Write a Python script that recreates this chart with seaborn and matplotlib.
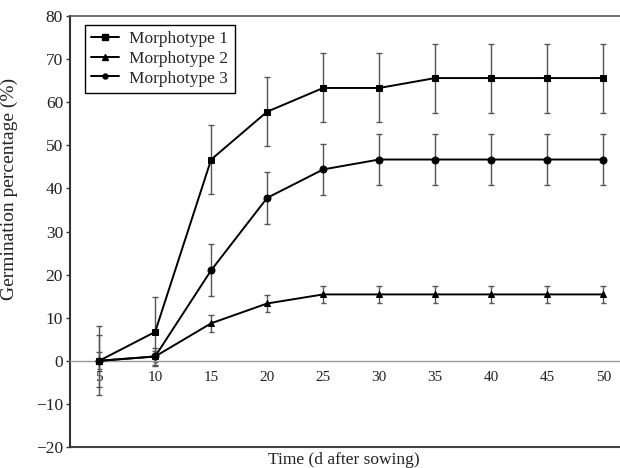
import matplotlib
matplotlib.use("Agg")
import matplotlib.pyplot as plt
import seaborn as sns
import pandas as pd
from matplotlib.lines import Line2D

days = [5, 10, 15, 20, 25, 30, 35, 40, 45, 50]
m1 = [0, 6.7, 46.7, 57.8, 63.3, 63.3, 65.6, 65.6, 65.6, 65.6]
m1_err = [8, 8, 8, 8, 8, 8, 8, 8, 8, 8]
m2 = [0, 1.0, 8.7, 13.3, 15.4, 15.4, 15.4, 15.4, 15.4, 15.4]
m2_err = [2, 1.2, 2, 2, 2, 2, 2, 2, 2, 2]
m3 = [0, 1.0, 21.0, 37.8, 44.4, 46.7, 46.7, 46.7, 46.7, 46.7]
m3_err = [6, 2, 6, 6, 6, 6, 6, 6, 6, 6]
names = ["Morphotype 1", "Morphotype 2", "Morphotype 3"]
yticks = [-20, -10, 0, 10, 20, 30, 40, 50, 60, 70, 80]

sns.set_theme(style="white")
plt.rcParams['font.family'] = ['Liberation Serif', 'DejaVu Serif']

rows = []
for name, vals in zip(names, [m1, m2, m3]):
    for d, v in zip(days, vals):
        rows.append({"day": d, "value": v, "Morphotype": name})
df = pd.DataFrame(rows)

fig = plt.figure(figsize=(6.2, 4.68), dpi=100)
ax = fig.add_axes([70/620, 1-447/468, 1-70/620 + 0.02, (447-16)/468])

for vals, errs in zip([m1, m2, m3], [m1_err, m2_err, m3_err]):
    ax.errorbar(days, vals, yerr=errs, fmt='none', ecolor='#555555',
                elinewidth=1.0, capsize=2.5, capthick=1.0, zorder=2)

markers = {"Morphotype 1": "s", "Morphotype 2": "^", "Morphotype 3": "o"}
sizes = {"Morphotype 1": 5, "Morphotype 2": 4.5, "Morphotype 3": 3.6}
sns.lineplot(data=df, x="day", y="value", hue="Morphotype", style="Morphotype",
             palette=["black"]*3, markers=markers, dashes=False, ax=ax,
             linewidth=1.4, markersize=5, markeredgecolor='black',
             legend=False, zorder=3)
for line, n in zip(ax.get_lines(), names):
    line.set_markersize(sizes[n])

ax.set_xlim(2.4, 51.5 + 0.02*620/11.2)
ax.set_ylim(-20, 80)
ax.set_yticks(yticks)
ax.set_xticks(days)
ax.set_xticklabels([str(d) for d in days], fontsize=12.5)
ax.tick_params(axis='y', labelsize=12.5, length=3, width=1, color='#333333',
               left=True, pad=2, labelcolor='#222222')
ax.tick_params(axis='x', length=0, pad=7, labelcolor='#222222')

ax.spines['bottom'].set_position(('data', 0))
ax.spines['bottom'].set_color('#999999')
ax.spines['bottom'].set_linewidth(1.0)
ax.spines['right'].set_visible(False)
ax.spines['left'].set_color('#333333')
ax.spines['left'].set_linewidth(1.5)
ax.spines['top'].set_color('#555555')
ax.spines['top'].set_linewidth(1.2)
ax.add_line(Line2D([0, 1], [0, 0], transform=ax.transAxes, color='#444444',
                   linewidth=1.5, clip_on=False))

ax.set_xlabel("Time (d after sowing)", fontsize=12.5, color='#222222')
ax.xaxis.set_label_coords((338-70)/550, -0.012)
ax.set_ylabel("Germination percentage (%)", fontsize=14, color='#222222')
ax.yaxis.set_label_coords(-0.093, 0.599)

handles = [Line2D([0], [0], color='black', marker=markers[n], markersize=sizes[n],
                  linewidth=1.4) for n in names]
leg = ax.legend(handles, names, loc='upper left', bbox_to_anchor=(0.027, 0.979),
                borderaxespad=0, fancybox=False, edgecolor='black', framealpha=1,
                fontsize=12.5, handlelength=1.6, handletextpad=0.6,
                borderpad=0.35, labelspacing=0.2)
leg.get_frame().set_linewidth(1.0)

fig.savefig("out.png", dpi=100)
